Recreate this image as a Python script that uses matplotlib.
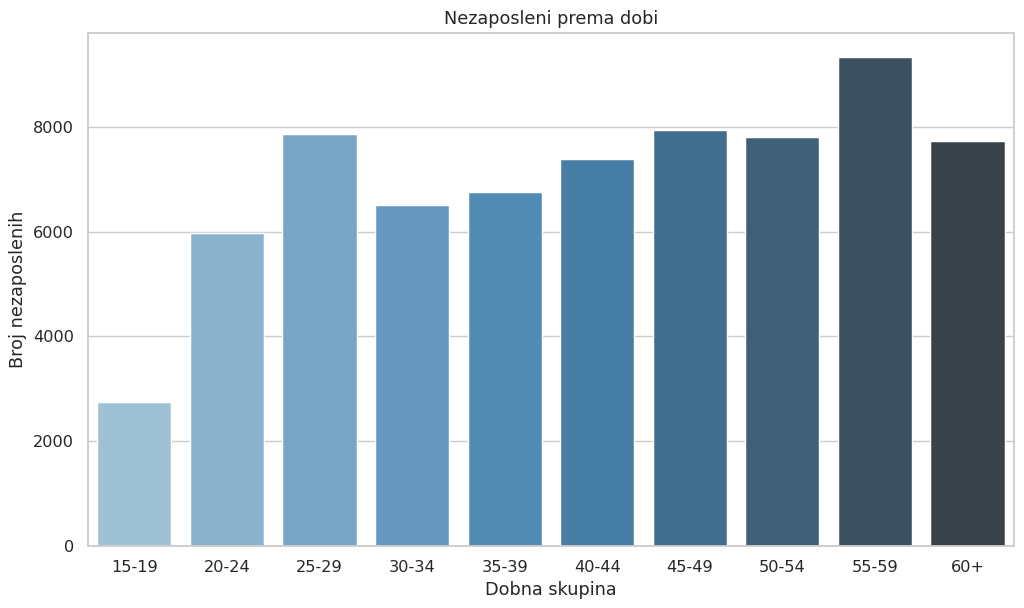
import matplotlib
matplotlib.use("Agg")
import matplotlib.pyplot as plt
import seaborn as sns

age_groups = ["15-19", "20-24", "25-29", "30-34", "35-39",
              "40-44", "45-49", "50-54", "55-59", "60+"]
unemployed = [2750, 5970, 7860, 6510, 6750, 7390, 7950, 7810, 9330, 7730]

sns.set_theme(style="whitegrid")

dpi = 105.5
fig, ax = plt.subplots(figsize=(1024 / dpi, 608 / dpi), dpi=dpi)
sns.barplot(x=age_groups, y=unemployed, hue=age_groups,
            palette="Blues_d", legend=False, ax=ax)

ax.set_title("Nezaposleni prema dobi")
ax.set_xlabel("Dobna skupina")
ax.set_ylabel("Broj nezaposlenih")

fig.subplots_adjust(left=0.086, right=0.990, top=0.946, bottom=0.102)
plt.savefig("out.png", dpi=dpi)
